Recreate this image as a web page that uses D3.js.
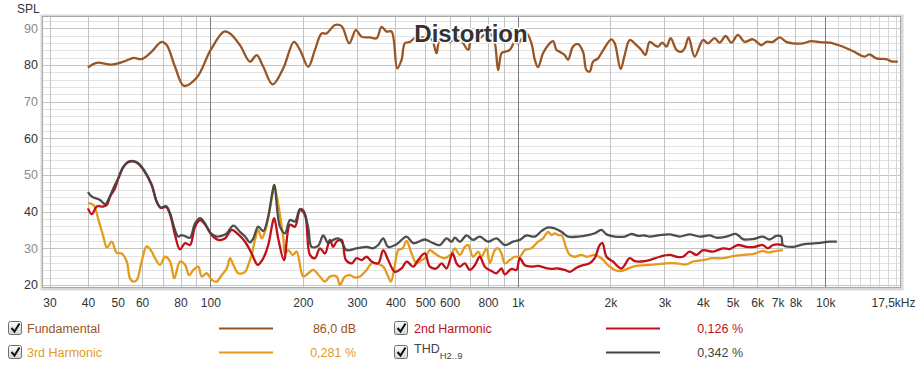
<!DOCTYPE html>
<html><head><meta charset="utf-8">
<script src="https://cdn.jsdelivr.net/npm/d3@7"></script>
<style>body{margin:0;background:#fff;} svg{display:block;font-family:"Liberation Sans",Arial,sans-serif;}</style>
</head><body><svg id="c" width="921" height="367"></svg>
<script>
// ---------- DATA ----------
const fundFreq = [40,42.7,47.8,52.2,56.2,59.8,63.7,69.5,72.2,76.8,82.1,90.3,100.3,110.8,115.9,124.9,134.6,141.5,148.7,159.5,172.7,187.1,195.7,208.3,218.9,230.1,238.9,254.3,267.3,283,297.5,310.5,330.4,347.4,360.6,374.4,388.7,405.4,418.8,429.3,445.7,462.7,498.6,525,544.2,557.8,601.2,639.7,689.4,707.1,752.5,791.2,831.3,863,885.1,907.4,941.9,977.7,1002,1067,1108,1136,1164,1208,1255,1302,1336,1369,1421,1457,1512,1570,1630,1672,1714,1757,1824,1893,2016,2067,2160,2227,2312,2431,2523,2600,2685,2787,2858,2953,3043,3142,3280,3404,3489,3595,3760,4002,4154,4368,4535,4742,4949,5200,5466,5817,6194,6430,6755,7103,7468,7846,8456,9006,9583,10330,11130,12290,13420,13930,14650,15790,16390,17220];
const fundSpl = [79.3,80.6,80.1,80.9,81.9,81.6,83.2,86.3,85.4,79.5,74.3,76.5,84.1,89.1,88.6,85.4,80.9,82.7,79.5,74.7,79.1,86.3,84.1,79.5,84.1,88.6,88.6,90.9,90.6,85.9,89.5,87.7,87.5,87.3,90.4,89.1,89.1,79.1,81.4,85.9,86.3,87.3,87.5,87.0,83.2,86.8,86.3,87.7,84.1,87.3,87.3,88.6,87.7,78.6,83.2,83.6,84.1,86.3,85.9,88.6,85.9,81.4,79.4,83.2,85.4,86.5,84.1,83.6,82.7,81.4,85.0,85.7,83.6,78.6,78.2,80.9,81.8,84.0,87.0,85.9,78.9,82.7,86.8,85.4,84.1,82.7,86.3,85.4,85.0,86.1,85.0,87.3,84.1,83.6,84.5,87.5,82.3,86.8,85.9,87.3,86.1,87.9,86.1,88.2,86.3,87.0,85.4,86.3,86.3,87.5,86.3,85.9,85.9,86.5,86.2,86.1,85.3,83.8,82.3,82.9,81.8,81.6,81.0,80.9];

const thdFreq = [40,41.2,43.8,45.5,46.6,48.4,50.2,52.2,54.1,56.2,58.3,61.3,64.5,67,69.1,71.8,74,76.4,78.7,80.7,82.8,85.9,89.2,92.6,96.1,99.8,104.9,108.9,113.1,118.8,124.9,129.7,134.6,138,143.2,148.7,154.3,158.3,161.4,168.5,174.9,181.6,188.5,195.7,200.6,208.3,213.6,224.4,232.9,241.8,251,260.6,267.3,277.5,299.1,322.3,338.6,351.6,365,378.9,403.4,434.8,456.8,498.6,530.6,557.8,586.5,608.9,624.1,647.9,681.2,715.7,752.5,800.7,852.7,907.4,965.4,1015,1067,1136,1194,1255,1319,1387,1457,1570,1692,1779,1871,1943,2067,2227,2342,2460,2587,2685,2894,3119,3361,3622,3903,4206,4423,4766,5136,5396,5817,6268,6590,6930,7194,7281,7846,8456,9348,10330,10910];
const thdSpl = [45.3,44.1,43.2,42.0,43.2,46.4,49.1,52.3,53.6,53.8,53.2,50.9,47.3,42.7,41.1,41.5,39.5,35.5,33.2,33.6,33.3,32.9,36.8,38.2,36.8,34.3,33.2,33.4,34.1,36.2,34.5,33.2,31.6,32.7,35.9,34.7,38.6,44.1,47.3,35.9,34.1,37.7,37.3,40.7,40.4,35.5,30.4,30.7,33.5,31.4,32.3,32.7,31.8,29.5,30.0,30.4,30.0,30.9,32.7,30.4,31.1,33.2,31.4,32.4,31.4,30.9,32.7,31.8,32.9,31.8,33.5,32.3,33.2,31.8,32.7,30.9,31.8,32.3,33.5,33.2,34.7,35.7,35.4,34.5,33.2,33.2,33.6,34.1,35.0,33.8,33.2,33.2,33.9,33.4,33.5,33.2,33.6,33.8,33.2,33.8,33.2,33.5,32.9,33.2,33.9,32.5,32.5,33.2,32.4,33.4,33.2,30.9,30.4,31.1,31.4,31.8,31.8];

const h2Freq = [40,41.2,42.7,44.9,46.1,47.2,49,50.2,52.2,54.1,56.2,58.3,61.3,64.5,67,69.1,71.8,74,76.8,79.7,82.8,85.9,89.2,92.6,97.3,101.1,106.2,111.6,117.4,123.3,129.7,136.3,142.6,148.7,154.3,160.2,161.4,166.3,173.6,181.6,188.5,195.7,203.1,210.9,218.9,227.3,235.9,244.9,251,257.5,267.3,276.1,288.1,299.1,310.5,322.3,334.6,351.6,365,378.9,398.4,418.8,434.8,456.8,474.2,498.6,517.6,544.2,565,586.5,613.5,632.1,647.9,672.6,698.2,724.9,752.5,781.1,821.3,852.7,885.1,907.4,953.9,990.3,1015,1054,1108,1164,1224,1287,1352,1421,1476,1552,1630,1714,1779,1847,1885,1943,2040,2173,2312,2400,2523,2685,2894,3119,3280,3445,3622,3809,4002,4312,4647,4886,5200,5536,5890,6268,6508,6755,7014,7248];
const h2Spl = [40.9,39.3,41.4,41.4,41.8,44.1,46.4,49.0,52.2,53.5,53.7,53.1,50.8,47.2,42.6,41.0,41.3,39.2,33.6,29.7,31.4,30.9,35.9,37.7,35.9,33.6,32.3,32.7,35.0,33.8,31.8,28.6,25.5,27.3,30.9,37.7,38.2,32.7,26.8,36.4,35.9,40.4,39.1,28.2,27.3,30.0,28.6,32.3,30.4,31.8,32.3,26.8,25.9,27.3,26.8,27.7,26.4,25.9,29.5,26.8,23.6,24.5,26.4,25.0,26.8,28.6,25.0,24.5,25.9,24.5,28.6,25.9,25.0,25.9,24.1,25.4,27.7,25.0,23.8,23.2,24.5,22.9,24.4,24.1,27.3,25.4,25.0,25.2,24.7,24.4,24.5,24.1,23.6,24.7,25.4,25.9,27.3,30.9,31.4,27.7,26.4,24.5,27.3,26.5,26.4,26.8,27.7,28.2,27.7,27.7,29.1,28.2,29.5,29.1,30.0,29.8,30.9,30.4,30.4,30.9,30.0,30.9,31.1,30.9];

const h3Freq = [40,41.7,43.3,44.9,46.1,47.8,49.6,51.5,53.5,54.8,56.2,57.7,59.8,62.1,64.5,66.1,68.6,71.3,74,76.4,79.7,82.8,85.3,88.1,91.4,93.8,97.3,101.1,104.9,108.9,113.1,115.9,118.8,123.3,129.7,132.9,136.3,139.7,143.2,146.9,150.6,156.3,160.2,161.4,172.7,174.9,179.3,185.3,190.9,200.6,208.3,216.1,227.3,235.9,244.9,257.5,264,274,284.5,295.3,306.6,322.3,334.6,347.4,365,378.9,386.6,398.4,408.3,422,434.8,451.4,468.6,486.4,498.6,517.6,537.4,557.8,579.1,608.9,624.1,647.9,672.6,689.4,715.7,743,762.2,791.2,811,841.9,863,885.1,907.4,941.9,977.7,1015,1054,1108,1164,1208,1255,1287,1319,1352,1387,1439,1476,1532,1611,1672,1779,1871,1966,2067,2173,2283,2431,2587,2823,3043,3280,3534,3713,4002,4312,4647,5009,5396,5817,6268,6508,6930,7281];
const h3Spl = [42.3,41.8,37.7,33.2,30.2,31.8,28.8,28.6,26.4,21.8,20.9,21.4,26.4,30.5,29.1,27.3,25.5,27.7,26.4,21.8,26.4,25.5,22.7,24.1,25.0,22.3,23.2,21.4,20.9,22.7,24.5,27.3,25.5,23.2,23.6,25.5,28.2,32.3,35.0,32.7,34.5,40.9,45.9,47.3,33.0,28.6,29.5,28.2,29.1,22.3,23.2,24.1,22.3,20.9,22.3,22.3,20.0,22.3,22.7,22.0,22.3,24.1,25.9,25.9,25.0,22.3,20.9,25.4,29.5,30.0,32.0,28.6,25.9,26.8,27.3,29.5,28.6,27.7,27.3,28.6,30.0,28.2,30.4,30.9,27.7,29.1,27.7,30.0,25.9,29.5,30.0,28.6,25.9,26.8,27.7,27.7,29.5,30.0,31.8,32.7,34.5,33.6,34.1,33.6,33.6,30.0,28.2,27.7,28.2,27.7,28.2,27.3,25.4,24.1,23.8,24.5,25.2,25.4,25.6,25.9,25.9,25.6,26.4,26.8,27.3,27.3,27.9,28.2,28.4,29.3,28.9,29.3,29.5];

const xTickValues = [30,40,50,60,80,100,200,300,400,500,600,800,1000,2000,3000,4000,5000,6000,7000,8000,10000,17500];
const xTickLabels = ["30","40","50","60","80","100","200","300","400","500","600","800","1k","2k","3k","4k","5k","6k","7k","8k","10k","17,5kHz"];
const yTickValues = [20,30,40,50,60,70,80,90];
const xGridMinor = [30,40,50,60,70,80,90,200,300,400,500,600,700,800,900,2000,3000,4000,5000,6000,7000,8000,9000,11000,12000,13000,14000,15000,16000,17000];
const xGridMajor = [100,1000,10000];
const yGridMinor = d3.range(20,93,2);

const seriesNames = ["Fundamental","2nd Harmonic","3rd Harmonic","THD"];
const seriesValues = ["86,0 dB","0,126 %","0,281 %","0,342 %"];
const seriesColors = ["#9a5524","#c0101a","#e49b1c","#444444"];
const textColors = ["#9a5524","#c0101a","#e49b1c","#444444"];

// ---------- CHART ----------
const svg = d3.select("#c");
const L=43, T=17, R=900, B=287;
const x = d3.scaleLog().domain([28.57,17500]).range([L,R]);
const y = d3.scaleLinear().domain([19.45,93.08]).range([B,T]);

svg.append("rect").attr("width",921).attr("height",367).attr("fill","#fff");

// shadow frame
svg.append("rect").attr("x",L-1).attr("y",T-1).attr("width",R-L+3).attr("height",B-T+3)
  .attr("fill","none").attr("stroke","#d8d8d8").attr("stroke-width",3);
svg.append("rect").attr("x",L).attr("y",T).attr("width",R-L).attr("height",B-T).attr("fill","#fff");

const grid = svg.append("g");
grid.selectAll(".hm").data(yGridMinor).join("line")
  .attr("x1",L).attr("x2",R).attr("y1",d=>Math.round(y(d))+0.5).attr("y2",d=>Math.round(y(d))+0.5)
  .attr("stroke",d=>d%10===0?"#c4c4c4":"#e2e2e2").attr("stroke-width",1);
grid.selectAll(".vm").data(xGridMinor).join("line")
  .attr("y1",T).attr("y2",B).attr("x1",d=>Math.round(x(d))+0.5).attr("x2",d=>Math.round(x(d))+0.5)
  .attr("stroke",d=>d>10000?"#d6d6d6":"#c2c2c2").attr("stroke-width",1);
grid.selectAll(".vM").data(xGridMajor).join("line")
  .attr("y1",T).attr("y2",B).attr("x1",d=>Math.round(x(d))+0.5).attr("x2",d=>Math.round(x(d))+0.5)
  .attr("stroke","#7c7c7c").attr("stroke-width",1);

// frame border
svg.append("rect").attr("x",L-0.5).attr("y",T-0.5).attr("width",R-L+1).attr("height",B-T+1)
  .attr("fill","none").attr("stroke","#a8a8a8").attr("stroke-width",1);

// curves
const line = d3.line().x(d=>x(d[0])).y(d=>y(d[1])).curve(d3.curveCatmullRom.alpha(0.5));
const zip = (a,b)=>a.map((f,i)=>[f,b[i]]);
const plot = svg.append("g");
plot.append("path").datum(zip(h3Freq,h3Spl)).attr("d",line).attr("fill","none").attr("stroke",seriesColors[2]).attr("stroke-width",2.3).attr("stroke-linejoin","round");
plot.append("path").datum(zip(h2Freq,h2Spl)).attr("d",line).attr("fill","none").attr("stroke",seriesColors[1]).attr("stroke-width",2.3).attr("stroke-linejoin","round");
plot.append("path").datum(zip(thdFreq,thdSpl)).attr("d",line).attr("fill","none").attr("stroke",seriesColors[3]).attr("stroke-width",2.3).attr("stroke-linejoin","round").attr("stroke-opacity",0.95);
plot.append("path").datum(zip(fundFreq,fundSpl)).attr("d",line).attr("fill","none").attr("stroke",seriesColors[0]).attr("stroke-width",2.3).attr("stroke-linejoin","round");

// title
svg.append("text").attr("x",471).attr("y",42).attr("text-anchor","middle")
  .attr("font-size",24).attr("font-weight","bold").attr("fill","#333")
  .attr("stroke","#fff").attr("stroke-width",3).attr("paint-order","stroke").text("Distortion");

// axes
const ya = svg.append("g").attr("transform",`translate(${L},0)`)
  .call(d3.axisLeft(y).tickValues(yTickValues).tickSize(0).tickPadding(5));
ya.select(".domain").remove();
ya.selectAll("text").attr("font-size",12.5).attr("font-family","Liberation Sans, Arial, sans-serif")
  .attr("fill",d=>(d/10)%2===0?"#333":"#8a8a8a");

const xa = svg.append("g").attr("transform",`translate(0,${B})`)
  .call(d3.axisBottom(x).tickValues(xTickValues).tickFormat((d,i)=>xTickLabels[i]).tickSize(0).tickPadding(11));
xa.select(".domain").remove();
xa.selectAll("text").attr("font-size",12).attr("font-family","Liberation Sans, Arial, sans-serif").attr("fill","#333");
xa.selectAll(".tick").filter(d=>d===17500).select("text").attr("text-anchor","end").attr("x",15);

svg.append("text").attr("x",17).attr("y",13).attr("font-size",12).attr("fill","#333").text("SPL");

// legend
const defs = svg.append("defs");
const gr = defs.append("linearGradient").attr("id","cb").attr("x1",0).attr("y1",0).attr("x2",0).attr("y2",1);
gr.append("stop").attr("offset","0%").attr("stop-color","#fdfdfd");
gr.append("stop").attr("offset","100%").attr("stop-color","#d4d4d4");

const legendPos = [
  {cb:8, tx:27, lx1:219, lx2:273, vx:356, cy:328},
  {cb:394, tx:414, lx1:606, lx2:660, vx:743, cy:328},
  {cb:8, tx:27, lx1:219, lx2:273, vx:356, cy:352},
  {cb:394, tx:414, lx1:606, lx2:660, vx:743, cy:352}
];
seriesNames.forEach((name,i)=>{
  const p = legendPos[i];
  const g = svg.append("g");
  g.append("rect").attr("x",p.cb+0.5).attr("y",p.cy-6.5).attr("width",13).attr("height",13).attr("rx",2)
    .attr("fill","url(#cb)").attr("stroke","#6e6e6e");
  g.append("path").attr("d",`M${p.cb+3.5},${p.cy}l3,3.5l5,-8`).attr("fill","none").attr("stroke","#111").attr("stroke-width",2);
  if(name==="THD"){
    const t = g.append("text").attr("x",p.tx).attr("y",p.cy+1).attr("font-size",12.5).attr("fill",textColors[i]);
    t.append("tspan").text("THD");
    t.append("tspan").attr("font-size",9.5).attr("dy",6).text("H2..9");
  } else {
    g.append("text").attr("x",p.tx).attr("y",p.cy+4.5).attr("font-size",12.5).attr("fill",textColors[i]).text(name);
  }
  g.append("line").attr("x1",p.lx1).attr("x2",p.lx2).attr("y1",p.cy+0.5).attr("y2",p.cy+0.5)
    .attr("stroke",seriesColors[i]).attr("stroke-width",2.2);
  g.append("text").attr("x",p.vx).attr("y",p.cy+4.5).attr("text-anchor","end").attr("font-size",12.5)
    .attr("fill",textColors[i]).text(seriesValues[i]);
});
</script></body></html>
